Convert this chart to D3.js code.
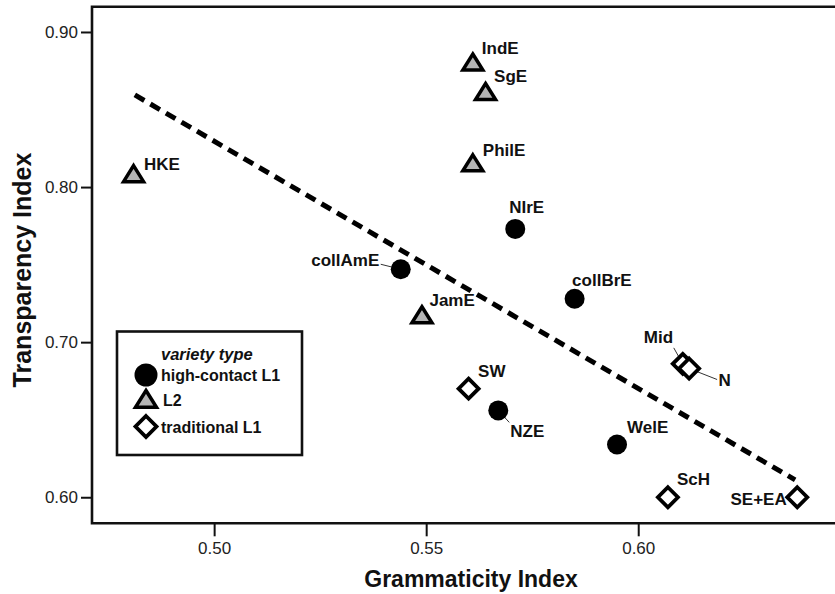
<!DOCTYPE html>
<html><head><meta charset="utf-8">
<script src="https://cdn.jsdelivr.net/npm/d3@7"></script>
<style>
html,body{margin:0;padding:0;background:#fff;}
svg{display:block;font-family:"Liberation Sans",Arial,sans-serif;}
</style></head>
<body>
<svg id="c" width="835" height="594"></svg>
<script>
// ---- data ----
const names = ["HKE","IndE","SgE","PhilE","JamE","collAmE","NIrE","collBrE","NZE","WelE","SW","Mid","N","ScH","SE+EA"];
const types = ["L2","L2","L2","L2","L2","high-contact L1","high-contact L1","high-contact L1","high-contact L1","high-contact L1","traditional L1","traditional L1","traditional L1","traditional L1","traditional L1"];
const grammaticity = [0.481,0.561,0.564,0.561,0.549,0.544,0.571,0.585,0.567,0.595,0.560,0.6105,0.612,0.607,0.6375];
const transparency = [0.808,0.880,0.861,0.815,0.717,0.747,0.773,0.728,0.656,0.634,0.670,0.686,0.683,0.600,0.600];
const trendX = [0.4813,0.637];
const trendY = [0.8594,0.6112];
const xTicks = [0.50,0.55,0.60];
const yTicks = [0.60,0.70,0.80,0.90];
const legendTypes = ["high-contact L1","L2","traditional L1"];

// label placement (pixel offsets from point, text anchor, optional leader)
const labelLayout = {
  "HKE":{dx:10.5,dy:-5,anchor:"start"},
  "IndE":{dx:9,dy:-9,anchor:"start"},
  "SgE":{dx:8.5,dy:-10,anchor:"start"},
  "PhilE":{dx:10,dy:-8,anchor:"start"},
  "JamE":{dx:7.5,dy:-10,anchor:"start"},
  "collAmE":{dx:-21.5,dy:-3,anchor:"end",leader:true},
  "NIrE":{dx:-6,dy:-16,anchor:"start"},
  "collBrE":{dx:-2.5,dy:-12.5,anchor:"start"},
  "NZE":{dx:12,dy:27,anchor:"start",leader:true},
  "WelE":{dx:10,dy:-12,anchor:"start"},
  "SW":{dx:9.5,dy:-12,anchor:"start"},
  "Mid":{dx:-39,dy:-20.5,anchor:"start",leader:true},
  "N":{dx:29.5,dy:17,anchor:"start",leader:true},
  "ScH":{dx:9,dy:-12,anchor:"start"},
  "SE+EA":{dx:-10.5,dy:8,anchor:"end",leader:true}
};
const leaderEnd = {"collAmE":[-20,-5],"NZE":[11,12],"Mid":[-9,-16],"N":[28,11],"SE+EA":[-10,0]};

const svg = d3.select("#c");
const W = 835, H = 594;
svg.append("rect").attr("width",W).attr("height",H).attr("fill","#fff");

const pLeft = 92, pTop = 6.7, pBottom = 523.3, pRight = 835;
const x = d3.scaleLinear().domain([0.4712,0.6464]).range([pLeft,pRight]);
const y = d3.scaleLinear().domain([0.5832,0.9163]).range([pBottom,pTop]);

// frame (right side runs off the canvas)
svg.append("path")
  .attr("d",`M${pRight+20},${pTop}H${pLeft}V${pBottom}H${pRight+20}`)
  .attr("fill","none").attr("stroke","#111").attr("stroke-width",2.6);

// axes
const xAxis = d3.axisBottom(x).tickValues(xTicks).tickFormat(d3.format(".2f")).tickSize(13).tickPadding(6);
const gx = svg.append("g").attr("transform",`translate(0,${pBottom})`).call(xAxis);
gx.select(".domain").remove();
gx.selectAll("line").attr("stroke","#111").attr("stroke-width",2);
gx.selectAll("text").attr("font-size",17).attr("fill","#222").attr("font-family","'Liberation Sans',Arial,sans-serif");

const yAxis = d3.axisLeft(y).tickValues(yTicks).tickFormat(d3.format(".2f")).tickSize(11).tickPadding(3);
const gy = svg.append("g").attr("transform",`translate(${pLeft},0)`).call(yAxis);
gy.select(".domain").remove();
gy.selectAll("line").attr("stroke","#111").attr("stroke-width",2);
gy.selectAll("text").attr("font-size",17).attr("fill","#222").attr("font-family","'Liberation Sans',Arial,sans-serif");

// axis titles
svg.append("text").attr("x",471).attr("y",587).attr("text-anchor","middle")
  .attr("font-size",23).attr("font-weight","bold").attr("fill","#111").text("Grammaticity Index");
svg.append("text").attr("transform",`translate(31,${270}) rotate(-90)`).attr("text-anchor","middle")
  .attr("font-size",25).attr("font-weight","bold").attr("fill","#111").text("Transparency Index");

// trend line
svg.append("line")
  .attr("x1",x(trendX[0])).attr("y1",y(trendY[0]))
  .attr("x2",x(trendX[1])).attr("y2",y(trendY[1]))
  .attr("stroke","#000").attr("stroke-width",5).attr("stroke-dasharray","11,7");

// marker shapes
function drawMarker(g,type,s){
  if(type==="high-contact L1"){
    g.append("circle").attr("r",10*s).attr("fill","#000");
  } else if(type==="L2"){
    g.append("path").attr("d",`M0,${-9*s}L${10*s},${7*s}L${-10*s},${7*s}Z`)
      .attr("fill","#b5b5b5").attr("stroke","#000").attr("stroke-width",3.5).attr("stroke-linejoin","miter");
  } else {
    const r = 10*s;
    g.append("path").attr("d",`M0,${-r}L${r},0L0,${r}L${-r},0Z`)
      .attr("fill","#fff").attr("stroke","#000").attr("stroke-width",3.8);
  }
}

const pts = names.map((n,i)=>({name:n,type:types[i],gx:grammaticity[i],ty:transparency[i]}));

// leaders
pts.forEach(p=>{
  const L = labelLayout[p.name];
  if(!L.leader) return;
  const px = x(p.gx), py = y(p.ty);
  const e = leaderEnd[p.name];
  svg.append("line").attr("x1",px).attr("y1",py).attr("x2",px+e[0]).attr("y2",py+e[1])
    .attr("stroke","#333").attr("stroke-width",1);
});

pts.forEach(p=>{
  const g = svg.append("g").attr("transform",`translate(${x(p.gx)},${y(p.ty)})`);
  drawMarker(g,p.type,1);
});

pts.forEach(p=>{
  const L = labelLayout[p.name];
  svg.append("text").attr("x",x(p.gx)+L.dx).attr("y",y(p.ty)+L.dy)
    .attr("text-anchor",L.anchor).attr("font-size",17).attr("font-weight","bold").attr("fill","#111")
    .text(p.name);
});

// legend
const lg = svg.append("g");
lg.append("rect").attr("x",117).attr("y",331.5).attr("width",185).attr("height",123.5)
  .attr("fill","#fff").attr("stroke","#111").attr("stroke-width",2.6);
lg.append("text").attr("x",161).attr("y",360).attr("font-size",16.5).attr("font-weight","bold")
  .attr("font-style","italic").attr("fill","#111").text("variety type");
const legY = [375,400,426.5];
legendTypes.forEach((t,i)=>{
  const g = lg.append("g").attr("transform",`translate(146,${legY[i]})`);
  drawMarker(g,t,t==="high-contact L1"?1.15:1.05);
  lg.append("text").attr("x",t==="L2"?163:161).attr("y",legY[i]+6).attr("font-size",16)
    .attr("font-weight","bold").attr("fill","#111").text(t);
});
</script>
</body></html>
